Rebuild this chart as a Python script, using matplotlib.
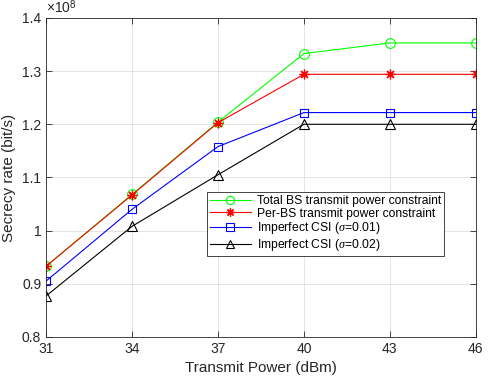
import matplotlib
matplotlib.use('Agg')
import matplotlib.pyplot as plt

plt.rcParams['font.family'] = ['Liberation Sans', 'DejaVu Sans']
plt.rcParams['mathtext.fontset'] = 'custom'
plt.rcParams['mathtext.rm'] = 'Liberation Sans'
plt.rcParams['mathtext.it'] = 'Liberation Serif:italic'

power = [31, 34, 37, 40, 43, 46]
total_bs = [0.933, 1.068, 1.204, 1.333, 1.353, 1.353]
per_bs = [0.933, 1.067, 1.203, 1.294, 1.294, 1.294]
csi_001 = [0.905, 1.040, 1.158, 1.222, 1.222, 1.222]
csi_002 = [0.877, 1.008, 1.105, 1.200, 1.200, 1.200]

labels = ['Total BS transmit power constraint',
          'Per-BS transmit power constraint',
          r'Imperfect CSI ($\sigma$=0.01)',
          r'Imperfect CSI ($\sigma$=0.02)']

fig = plt.figure(figsize=(4.9, 3.82), dpi=100)
ax = fig.add_axes([0.094, 0.118, 0.877, 0.835])

ax.plot(power, total_bs, color='#00ff00', lw=0.8, marker='o', ms=7, mfc='none', mew=0.8, label=labels[0])
ax.plot(power, per_bs, color='#ff0000', lw=0.8, marker=(8, 2, 0), ms=7, mew=0.9, label=labels[1])
ax.plot(power, csi_001, color='#0000ff', lw=0.8, marker='s', ms=6, mfc='none', mew=0.8, label=labels[2])
ax.plot(power, csi_002, color='#000000', lw=0.8, marker='^', ms=7, mfc='none', mew=0.8, label=labels[3])

ax.set_xlim(31, 46)
ax.set_ylim(0.8, 1.4)
ax.set_xticks(power)
ax.set_yticks([0.8, 0.9, 1.0, 1.1, 1.2, 1.3, 1.4])
ax.set_yticklabels(['0.8', '0.9', '1', '1.1', '1.2', '1.3', '1.4'])
ax.tick_params(direction='in', top=True, right=True, labelsize=10, length=4, width=0.6, colors='#262626')
ax.grid(True, color='#e0e0e0', lw=0.6)
ax.set_axisbelow(True)
for s in ax.spines.values():
    s.set_linewidth(0.6)
    s.set_color('#262626')

ax.set_xlabel('Transmit Power (dBm)', fontsize=11, color='#262626')
ax.set_ylabel('Secrecy rate (bit/s)', fontsize=11, color='#262626')
ax.text(0.0, 1.005, r'$\times10^8$', transform=ax.transAxes, fontsize=10, va='bottom', ha='left', color='#262626')

leg = ax.legend(loc='lower right', bbox_to_anchor=(0.926, 0.254), fontsize=8.7, fancybox=False,
                edgecolor='#262626', framealpha=1, handlelength=3.4, borderpad=0.25,
                labelspacing=0.05, handletextpad=0.5, borderaxespad=0, markerscale=0.85)
leg.get_frame().set_linewidth(0.6)

fig.savefig('out.png', dpi=100)
